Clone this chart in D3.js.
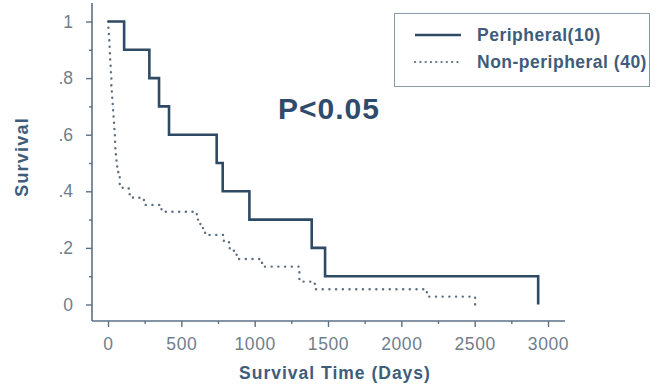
<!DOCTYPE html>
<html>
<head>
<meta charset="utf-8">
<script src="https://cdn.jsdelivr.net/npm/d3@7"></script>
<style>
  html, body { margin: 0; padding: 0; background: #fff; }
  svg { display: block; }
  text { font-family: "Liberation Sans", Arial, Helvetica, sans-serif; }
</style>
</head>
<body>
<svg id="chart" width="662" height="385"></svg>
<script>
// Kaplan–Meier survival estimates (time in days, survival after each step)
const peripheralTimes = [0, 110, 282, 348, 416, 741, 782, 964, 1389, 1480, 2933];
const peripheralSurv  = [1, 0.9, 0.8, 0.7, 0.6, 0.5, 0.4, 0.3, 0.2, 0.1, 0];

const nonPeripheralTimes = [0, 3, 6, 9, 11, 13, 15, 18, 20, 23, 26, 29, 32, 35, 38, 41, 44, 47, 50, 54, 58,
  63, 70, 80, 100, 145, 170, 245, 365, 605, 630, 662, 790, 830, 877, 1050, 1305, 1410, 2174, 2503];
const nonPeripheralSurv  = [1, 0.975, 0.95, 0.925, 0.9, 0.875, 0.85, 0.825, 0.8, 0.775, 0.75, 0.725, 0.7,
  0.675, 0.65, 0.625, 0.6, 0.575, 0.55, 0.525, 0.5, 0.475, 0.45, 0.425, 0.41, 0.39, 0.377, 0.352, 0.328,
  0.30, 0.27, 0.246, 0.22, 0.19, 0.161, 0.134, 0.081, 0.054, 0.028, 0];

const xMajorTicks = [0, 500, 1000, 1500, 2000, 2500, 3000];
const xMinorTicks = [250, 750, 1250, 1750, 2250, 2750];
const yMajorTicks = [0, 0.2, 0.4, 0.6, 0.8, 1];
const yMinorTicks = [0.1, 0.3, 0.5, 0.7, 0.9];
const yTickLabels = ["0", ".2", ".4", ".6", ".8", "1"];

const seriesNames = ["Peripheral(10)", "Non-peripheral (40)"];
const yTitle = "Survival";
const xTitle = "Survival Time (Days)";
const pLabel = "P<0.05";

const axisColor = "#5b7186";
const tickTextColor = "#6f7e8c";
const titleColor = "#3f5d7a";
const solidColor = "#2f4a64";
const dotColor = "#5e6f80";

const svg = d3.select("#chart");

const x = d3.scaleLinear().domain([0, 3000]).range([108, 548]);
const y = d3.scaleLinear().domain([0, 1]).range([304.5, 21.5]);

const axisX = 92, axisY = 321;

// axis lines
svg.append("line").attr("x1", axisX).attr("x2", axisX).attr("y1", 3).attr("y2", axisY)
  .attr("stroke", axisColor).attr("stroke-width", 1.6);
svg.append("line").attr("x1", axisX).attr("x2", 565).attr("y1", axisY).attr("y2", axisY)
  .attr("stroke", axisColor).attr("stroke-width", 1.6);

function styleAxis(g) {
  g.select(".domain").remove();
  g.selectAll(".tick line").attr("stroke", axisColor).attr("stroke-width", 1.4);
  g.selectAll(".tick text").attr("fill", tickTextColor)
    .style("font-size", "17.5px").style("font-family", "'Liberation Sans', Arial, sans-serif");
}

// y axis
svg.append("g").attr("transform", `translate(${axisX},0)`)
  .call(d3.axisLeft(y).tickValues(yMajorTicks).tickSize(6).tickPadding(13)
    .tickFormat((d, i) => yTickLabels[i]))
  .call(styleAxis);
svg.append("g").attr("transform", `translate(${axisX},0)`)
  .call(d3.axisLeft(y).tickValues(yMinorTicks).tickSize(3).tickFormat(""))
  .call(styleAxis);

// x axis
svg.append("g").attr("transform", `translate(0,${axisY})`)
  .call(d3.axisBottom(x).tickValues(xMajorTicks).tickSize(6).tickPadding(11).tickFormat(d3.format("d")))
  .call(styleAxis)
  .call(g => g.selectAll(".tick text").style("letter-spacing", "0.6px"));
svg.append("g").attr("transform", `translate(0,${axisY})`)
  .call(d3.axisBottom(x).tickValues(xMinorTicks).tickSize(3).tickFormat(""))
  .call(styleAxis);

// axis titles
svg.append("text").attr("transform", "translate(28,157) rotate(-90)")
  .attr("text-anchor", "middle").attr("fill", titleColor)
  .style("font-size", "18px").style("font-weight", "bold").style("letter-spacing", "1.2px")
  .text(yTitle);
svg.append("text").attr("x", 335).attr("y", 379)
  .attr("text-anchor", "middle").attr("fill", titleColor)
  .style("font-size", "17.5px").style("font-weight", "bold").style("letter-spacing", "1px")
  .text(xTitle);

// survival curves
const stepLine = d3.line().curve(d3.curveStepAfter).x(d => x(d[0])).y(d => y(d[1]));

const peripheral = peripheralTimes.map((t, i) => [t, peripheralSurv[i]]);
const nonPeripheral = nonPeripheralTimes.map((t, i) => [t, nonPeripheralSurv[i]]);

svg.append("path").datum(nonPeripheral).attr("d", stepLine)
  .attr("fill", "none").attr("stroke", dotColor).attr("stroke-width", 2.4)
  .attr("stroke-linecap", "round").attr("stroke-dasharray", "0.1,6.6");

svg.append("path").datum(peripheral).attr("d", stepLine)
  .attr("fill", "none").attr("stroke", solidColor).attr("stroke-width", 2.6);

// p-value annotation
svg.append("text").attr("x", 278).attr("y", 119)
  .attr("fill", "#2e4b6b").style("font-size", "30px").style("font-weight", "bold")
  .style("letter-spacing", "1px").text(pLabel);

// legend
const legend = svg.append("g");
legend.append("rect").attr("x", 394.5).attr("y", 13.5).attr("width", 255).attr("height", 73)
  .attr("fill", "#fff").attr("stroke", "#8b9aa8").attr("stroke-width", 1);
legend.append("line").attr("x1", 415).attr("x2", 461).attr("y1", 35).attr("y2", 35)
  .attr("stroke", solidColor).attr("stroke-width", 2.6);
legend.append("line").attr("x1", 415).attr("x2", 461).attr("y1", 62).attr("y2", 62)
  .attr("stroke", dotColor).attr("stroke-width", 2.2).attr("stroke-linecap", "round")
  .attr("stroke-dasharray", "0.1,5.2");
legend.selectAll("text.lg").data(seriesNames).join("text").attr("class", "lg")
  .attr("x", 477).attr("y", (d, i) => 41 + i * 27)
  .attr("fill", titleColor).style("font-size", "17.5px").style("font-weight", "bold")
  .style("letter-spacing", "0.5px")
  .text(d => d);
</script>
</body>
</html>
